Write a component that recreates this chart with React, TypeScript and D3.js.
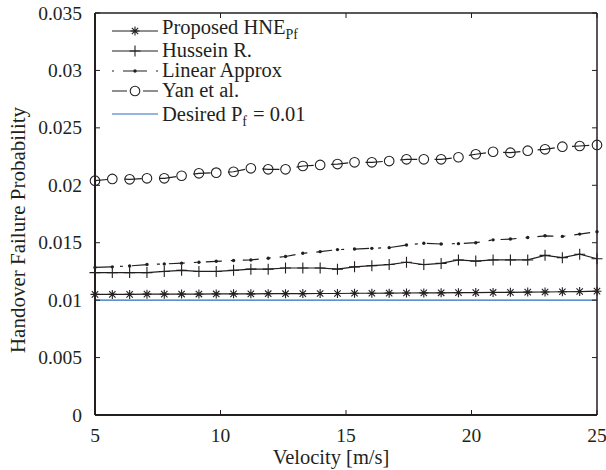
import React from 'react';
import * as d3 from 'd3';

// velocity samples (m/s)
const velocity = [5, 5.69, 6.38, 7.07, 7.76, 8.45, 9.14, 9.83, 10.52, 11.21, 11.9, 12.59, 13.28, 13.97, 14.66,
  15.34, 16.03, 16.72, 17.41, 18.1, 18.79, 19.48, 20.17, 20.86, 21.55, 22.24, 22.93, 23.62, 24.31, 25];

const proposedHNE = [0.0105, 0.0105, 0.0105, 0.01052, 0.01052, 0.01053, 0.01053, 0.01054, 0.01055, 0.01055,
  0.01056, 0.01056, 0.01057, 0.01058, 0.01058, 0.0106, 0.0106, 0.01061, 0.01062, 0.01063,
  0.01064, 0.01065, 0.01066, 0.01067, 0.01068, 0.0107, 0.01071, 0.01073, 0.01075, 0.01078];

const husseinR = [0.0124, 0.0124, 0.0124, 0.0124, 0.0125, 0.0126, 0.0125, 0.0125, 0.0126, 0.0127,
  0.0127, 0.0128, 0.0128, 0.0128, 0.0127, 0.0129, 0.013, 0.0131, 0.0133, 0.0131,
  0.0132, 0.0135, 0.0134, 0.0135, 0.0135, 0.0135, 0.0139, 0.0137, 0.014, 0.0136];

const linearApprox = [0.01285, 0.0129, 0.01298, 0.0131, 0.01315, 0.01322, 0.0133, 0.01338, 0.01345, 0.0135,
  0.01365, 0.0138, 0.01408, 0.01422, 0.0144, 0.01445, 0.01451, 0.01457, 0.0148, 0.01495,
  0.01489, 0.01492, 0.015, 0.01525, 0.01532, 0.01545, 0.0156, 0.01555, 0.01575, 0.01595];

const yanEtAl = [0.0204, 0.02055, 0.02052, 0.02061, 0.02061, 0.02083, 0.02104, 0.0211, 0.02118, 0.02148,
  0.02139, 0.02139, 0.02168, 0.02177, 0.02185, 0.022, 0.022, 0.02211, 0.02226, 0.02226,
  0.02226, 0.02244, 0.0227, 0.02292, 0.02284, 0.02301, 0.02313, 0.02336, 0.02342, 0.02351];

const desiredPf = 0.01;

const xTicks = [5, 10, 15, 20, 25];
const yTicks = [0, 0.005, 0.01, 0.015, 0.02, 0.025, 0.03, 0.035];

const W = 606, H = 470;
const margin = {left: 95, right: 9, top: 13, bottom: 55};
const ink = '#231f20';
const blue = '#2a6ebb';
const font = '"Liberation Serif", "DejaVu Serif", serif';

const starPath = 'M-4.5,0L4.5,0M0,-4.5L0,4.5M-3.2,-3.2L3.2,3.2M-3.2,3.2L3.2,-3.2';
const plusPath = 'M-5.5,0L5.5,0M0,-5.5L0,5.5';

function Marker({kind, cx, cy}) {
  if (kind === 'star') return <path d={starPath} transform={`translate(${cx},${cy})`} stroke={ink} strokeWidth={1.1} fill="none"/>;
  if (kind === 'plus') return <path d={plusPath} transform={`translate(${cx},${cy})`} stroke={ink} strokeWidth={1.1} fill="none"/>;
  if (kind === 'circle') return <circle cx={cx} cy={cy} r={4.8} stroke={ink} strokeWidth={1.1} fill="none"/>;
  if (kind === 'dot') return <circle cx={cx} cy={cy} r={1.7} fill={ink}/>;
  return null;
}

export default function App() {
  const x = d3.scaleLinear().domain([5, 25]).range([margin.left, W - margin.right]);
  const y = d3.scaleLinear().domain([0, 0.035]).range([H - margin.bottom, margin.top]);
  const x0 = margin.left, x1 = W - margin.right, y0 = H - margin.bottom, y1 = margin.top;

  const line = d3.line<number>().x((d, i) => x(velocity[i])).y(d => y(d));

  const series = [
    {name: 'proposed', values: proposedHNE, marker: 'star', dash: null, offset: 0},
    {name: 'hussein', values: husseinR, marker: 'plus', dash: null, offset: 0},
    {name: 'linear', values: linearApprox, marker: 'dot', dash: '16 9 3 9', offset: 0},
    {name: 'yan', values: yanEtAl, marker: 'circle', dash: '17.3 17.3', offset: 5},
  ];

  // legend layout
  const lx0 = 112, lx1 = 158, ltx = 162;
  const legendRows = [31, 51, 71, 91, 114];

  return (
    <svg width={W} height={H} style={{position: 'absolute', left: 0, top: 0, background: '#fff'}}
         fontFamily={font} fill={ink}>
      <rect width={W} height={H} fill="#fff"/>

      {/* desired level */}
      <line x1={x(5)} x2={x(25)} y1={y(desiredPf)} y2={y(desiredPf)} stroke={blue} strokeWidth={1.2}/>

      {series.map(s => (
        <g key={s.name}>
          <path d={line(s.values)} fill="none" stroke={ink} strokeWidth={1.2}
                strokeDasharray={s.dash || undefined} strokeDashoffset={s.offset}/>
          {s.values.map((v, i) => <Marker key={i} kind={s.marker} cx={x(velocity[i])} cy={y(v)}/>)}
        </g>
      ))}

      {/* axes box */}
      <line x1={x0} x2={x1} y1={y1} y2={y1} stroke={ink} strokeWidth={1.5}/>
      <line x1={x1} x2={x1} y1={y1} y2={y0} stroke={ink} strokeWidth={1.5}/>
      <line x1={x0} x2={x1} y1={y0} y2={y0} stroke={ink} strokeWidth={2}/>
      <line x1={x0} x2={x0} y1={y1} y2={y0} stroke={ink} strokeWidth={2}/>

      {xTicks.map(t => (
        <g key={'x' + t}>
          <line x1={x(t)} x2={x(t)} y1={y0} y2={y0 - 5} stroke={ink} strokeWidth={1}/>
          <line x1={x(t)} x2={x(t)} y1={y1} y2={y1 + 5} stroke={ink} strokeWidth={1}/>
          <text x={x(t)} y={y0 + 27} textAnchor="middle" fontSize={19.5}>{t}</text>
        </g>
      ))}
      {yTicks.map(t => (
        <g key={'y' + t}>
          <line x1={x0} x2={x0 + 5} y1={y(t)} y2={y(t)} stroke={ink} strokeWidth={1}/>
          <line x1={x1} x2={x1 - 5} y1={y(t)} y2={y(t)} stroke={ink} strokeWidth={1}/>
          <text x={x0 - 13} y={y(t) + 6.5} textAnchor="end" fontSize={19.5}>{String(t)}</text>
        </g>
      ))}

      <text x={331} y={464} textAnchor="middle" fontSize={20.5}>Velocity [m/s]</text>
      <text transform={`translate(25,230) rotate(-90)`} textAnchor="middle" fontSize={21}>Handover Failure Probability</text>

      {/* legend */}
      <g>
        <line x1={lx0} x2={lx1} y1={legendRows[0]} y2={legendRows[0]} stroke={ink} strokeWidth={1.2}/>
        <Marker kind="star" cx={(lx0 + lx1) / 2} cy={legendRows[0]}/>
        <text x={ltx} y={legendRows[0] + 3} fontSize={20.5}>Proposed HNE<tspan fontSize={14} dy={5}>Pf</tspan></text>

        <line x1={lx0} x2={lx1} y1={legendRows[1]} y2={legendRows[1]} stroke={ink} strokeWidth={1.2}/>
        <Marker kind="plus" cx={(lx0 + lx1) / 2} cy={legendRows[1]}/>
        <text x={ltx} y={legendRows[1] + 6} fontSize={20.5}>Hussein R.</text>

        <line x1={lx0} x2={lx1} y1={legendRows[2]} y2={legendRows[2]} stroke={ink} strokeWidth={1.2} strokeDasharray="2 9 24 9 2"/>
        <Marker kind="dot" cx={(lx0 + lx1) / 2} cy={legendRows[2]}/>
        <text x={ltx} y={legendRows[2] + 6} fontSize={20.5}>Linear Approx</text>

        <line x1={lx0} x2={lx1} y1={legendRows[3]} y2={legendRows[3]} stroke={ink} strokeWidth={1.2} strokeDasharray="15 16 15"/>
        <Marker kind="circle" cx={(lx0 + lx1) / 2} cy={legendRows[3]}/>
        <text x={ltx} y={legendRows[3] + 6} fontSize={20.5}>Yan et al.</text>

        <line x1={lx0} x2={lx1} y1={legendRows[4]} y2={legendRows[4]} stroke={blue} strokeWidth={1.2}/>
        <text x={ltx} y={legendRows[4] + 7} fontSize={20.5}>Desired P<tspan fontSize={14} dy={5}>f</tspan><tspan dy={-5} dx={6}>= 0.01</tspan></text>
      </g>
    </svg>
  );
}
